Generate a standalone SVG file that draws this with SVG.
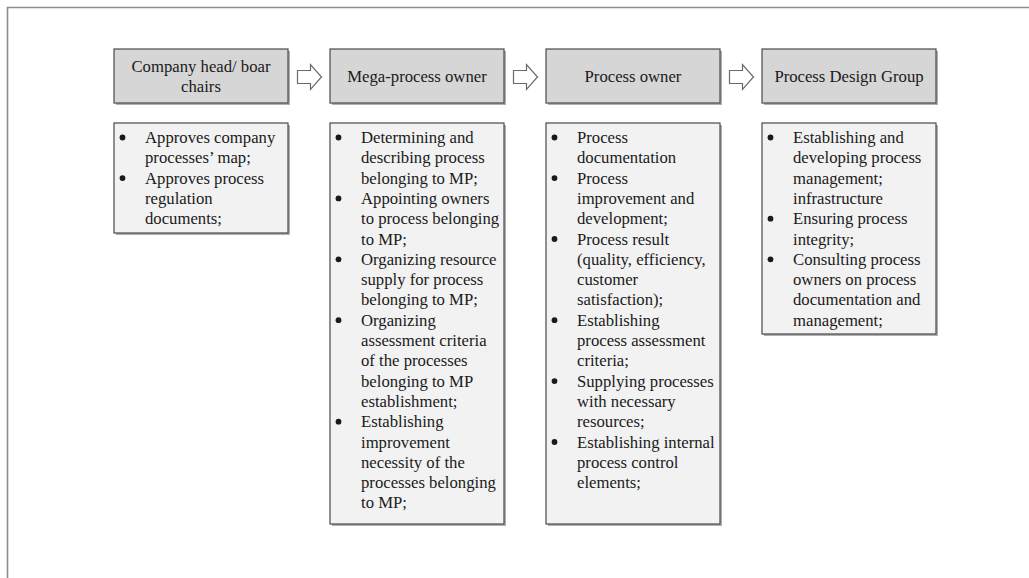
<svg xmlns="http://www.w3.org/2000/svg" width="1029" height="578" viewBox="0 0 1029 578">
<style>
.hdr{fill:#d6d6d6;stroke:#4a4a4a;stroke-width:1.2}
.det{fill:#f2f2f2;stroke:#4a4a4a;stroke-width:1.2}
.shd{fill:#b0b0b0}
.t{font-family:"Liberation Serif","Times New Roman",serif;font-size:16.7px;fill:#1a1a1a}
.c{text-anchor:middle}
.arr{fill:#ffffff;stroke:#6a6a6a;stroke-width:1.2;stroke-linejoin:miter}
.b{fill:#1a1a1a}
</style>
<rect width="1029" height="578" fill="#ffffff"/>
<path d="M7.5,578 V7.5 H1029" fill="none" stroke="#8c8c8c" stroke-width="1.6"/>

<g id="node-company-head">
<rect class="shd" x="116" y="51" width="174" height="54"/>
<rect class="hdr" x="114" y="49" width="174" height="54"/>
<text class="t c" x="201" y="72">Company head/ boar</text>
<text class="t c" x="201" y="92">chairs</text>
</g>
<g id="node-mega-process-owner">
<rect class="shd" x="332" y="51" width="174" height="54"/>
<rect class="hdr" x="330" y="49" width="174" height="54"/>
<text class="t c" x="417" y="82">Mega-process owner</text>
</g>
<g id="node-process-owner">
<rect class="shd" x="548" y="51" width="174" height="54"/>
<rect class="hdr" x="546" y="49" width="174" height="54"/>
<text class="t c" x="633" y="82">Process owner</text>
</g>
<g id="node-process-design-group">
<rect class="shd" x="764" y="51" width="174" height="54"/>
<rect class="hdr" x="762" y="49" width="174" height="54"/>
<text class="t c" x="849" y="82">Process Design Group</text>
</g>

<g id="connectors">
<path class="arr" d="M297.5,70.5 H310.5 V64.5 L321.5,77 L310.5,89.5 V83.5 H297.5 Z"/>
<path class="arr" d="M513.5,70.5 H526.5 V64.5 L537.5,77 L526.5,89.5 V83.5 H513.5 Z"/>
<path class="arr" d="M729.5,70.5 H742.5 V64.5 L753.5,77 L742.5,89.5 V83.5 H729.5 Z"/>
</g>

<g id="node-company-head-duties">
<rect class="shd" x="116" y="125" width="174" height="110"/>
<rect class="det" x="114" y="123" width="174" height="110"/>
<circle class="b" cx="122.5" cy="137.5" r="2.9"/>
<circle class="b" cx="122.5" cy="178.1" r="2.9"/>
<text class="t" x="145" y="143"><tspan x="145">Approves company</tspan><tspan x="145" dy="20.3">processes’ map;</tspan><tspan x="145" dy="20.3">Approves process</tspan><tspan x="145" dy="20.3">regulation</tspan><tspan x="145" dy="20.3">documents;</tspan></text>
</g>

<g id="node-mega-process-owner-duties">
<rect class="shd" x="332" y="125" width="174" height="401"/>
<rect class="det" x="330" y="123" width="174" height="401"/>
<circle class="b" cx="338.5" cy="137.5" r="2.9"/>
<circle class="b" cx="338.5" cy="198.4" r="2.9"/>
<circle class="b" cx="338.5" cy="259.3" r="2.9"/>
<circle class="b" cx="338.5" cy="320.2" r="2.9"/>
<circle class="b" cx="338.5" cy="421.7" r="2.9"/>
<text class="t" x="361" y="143"><tspan x="361">Determining and</tspan><tspan x="361" dy="20.3">describing process</tspan><tspan x="361" dy="20.3">belonging to MP;</tspan><tspan x="361" dy="20.3">Appointing owners</tspan><tspan x="361" dy="20.3">to process belonging</tspan><tspan x="361" dy="20.3">to MP;</tspan><tspan x="361" dy="20.3">Organizing resource</tspan><tspan x="361" dy="20.3">supply for process</tspan><tspan x="361" dy="20.3">belonging to MP;</tspan><tspan x="361" dy="20.3">Organizing</tspan><tspan x="361" dy="20.3">assessment criteria</tspan><tspan x="361" dy="20.3">of the processes</tspan><tspan x="361" dy="20.3">belonging to MP</tspan><tspan x="361" dy="20.3">establishment;</tspan><tspan x="361" dy="20.3">Establishing</tspan><tspan x="361" dy="20.3">improvement</tspan><tspan x="361" dy="20.3">necessity of the</tspan><tspan x="361" dy="20.3">processes belonging</tspan><tspan x="361" dy="20.3">to MP;</tspan></text>
</g>

<g id="node-process-owner-duties">
<rect class="shd" x="548" y="125" width="174" height="401"/>
<rect class="det" x="546" y="123" width="174" height="401"/>
<circle class="b" cx="554.5" cy="137.5" r="2.9"/>
<circle class="b" cx="554.5" cy="178.1" r="2.9"/>
<circle class="b" cx="554.5" cy="239" r="2.9"/>
<circle class="b" cx="554.5" cy="320.2" r="2.9"/>
<circle class="b" cx="554.5" cy="381.1" r="2.9"/>
<circle class="b" cx="554.5" cy="442" r="2.9"/>
<text class="t" x="577" y="143"><tspan x="577">Process</tspan><tspan x="577" dy="20.3">documentation</tspan><tspan x="577" dy="20.3">Process</tspan><tspan x="577" dy="20.3">improvement and</tspan><tspan x="577" dy="20.3">development;</tspan><tspan x="577" dy="20.3">Process result</tspan><tspan x="577" dy="20.3">(quality, efficiency,</tspan><tspan x="577" dy="20.3">customer</tspan><tspan x="577" dy="20.3">satisfaction);</tspan><tspan x="577" dy="20.3">Establishing</tspan><tspan x="577" dy="20.3">process assessment</tspan><tspan x="577" dy="20.3">criteria;</tspan><tspan x="577" dy="20.3">Supplying processes</tspan><tspan x="577" dy="20.3">with necessary</tspan><tspan x="577" dy="20.3">resources;</tspan><tspan x="577" dy="20.3">Establishing internal</tspan><tspan x="577" dy="20.3">process control</tspan><tspan x="577" dy="20.3">elements;</tspan></text>
</g>

<g id="node-process-design-group-duties">
<rect class="shd" x="764" y="125" width="174" height="211"/>
<rect class="det" x="762" y="123" width="174" height="211"/>
<circle class="b" cx="770.5" cy="137.5" r="2.9"/>
<circle class="b" cx="770.5" cy="218.7" r="2.9"/>
<circle class="b" cx="770.5" cy="259.3" r="2.9"/>
<text class="t" x="793" y="143"><tspan x="793">Establishing and</tspan><tspan x="793" dy="20.3">developing process</tspan><tspan x="793" dy="20.3">management;</tspan><tspan x="793" dy="20.3">infrastructure</tspan><tspan x="793" dy="20.3">Ensuring process</tspan><tspan x="793" dy="20.3">integrity;</tspan><tspan x="793" dy="20.3">Consulting process</tspan><tspan x="793" dy="20.3">owners on process</tspan><tspan x="793" dy="20.3">documentation and</tspan><tspan x="793" dy="20.3">management;</tspan></text>
</g>
</svg>
